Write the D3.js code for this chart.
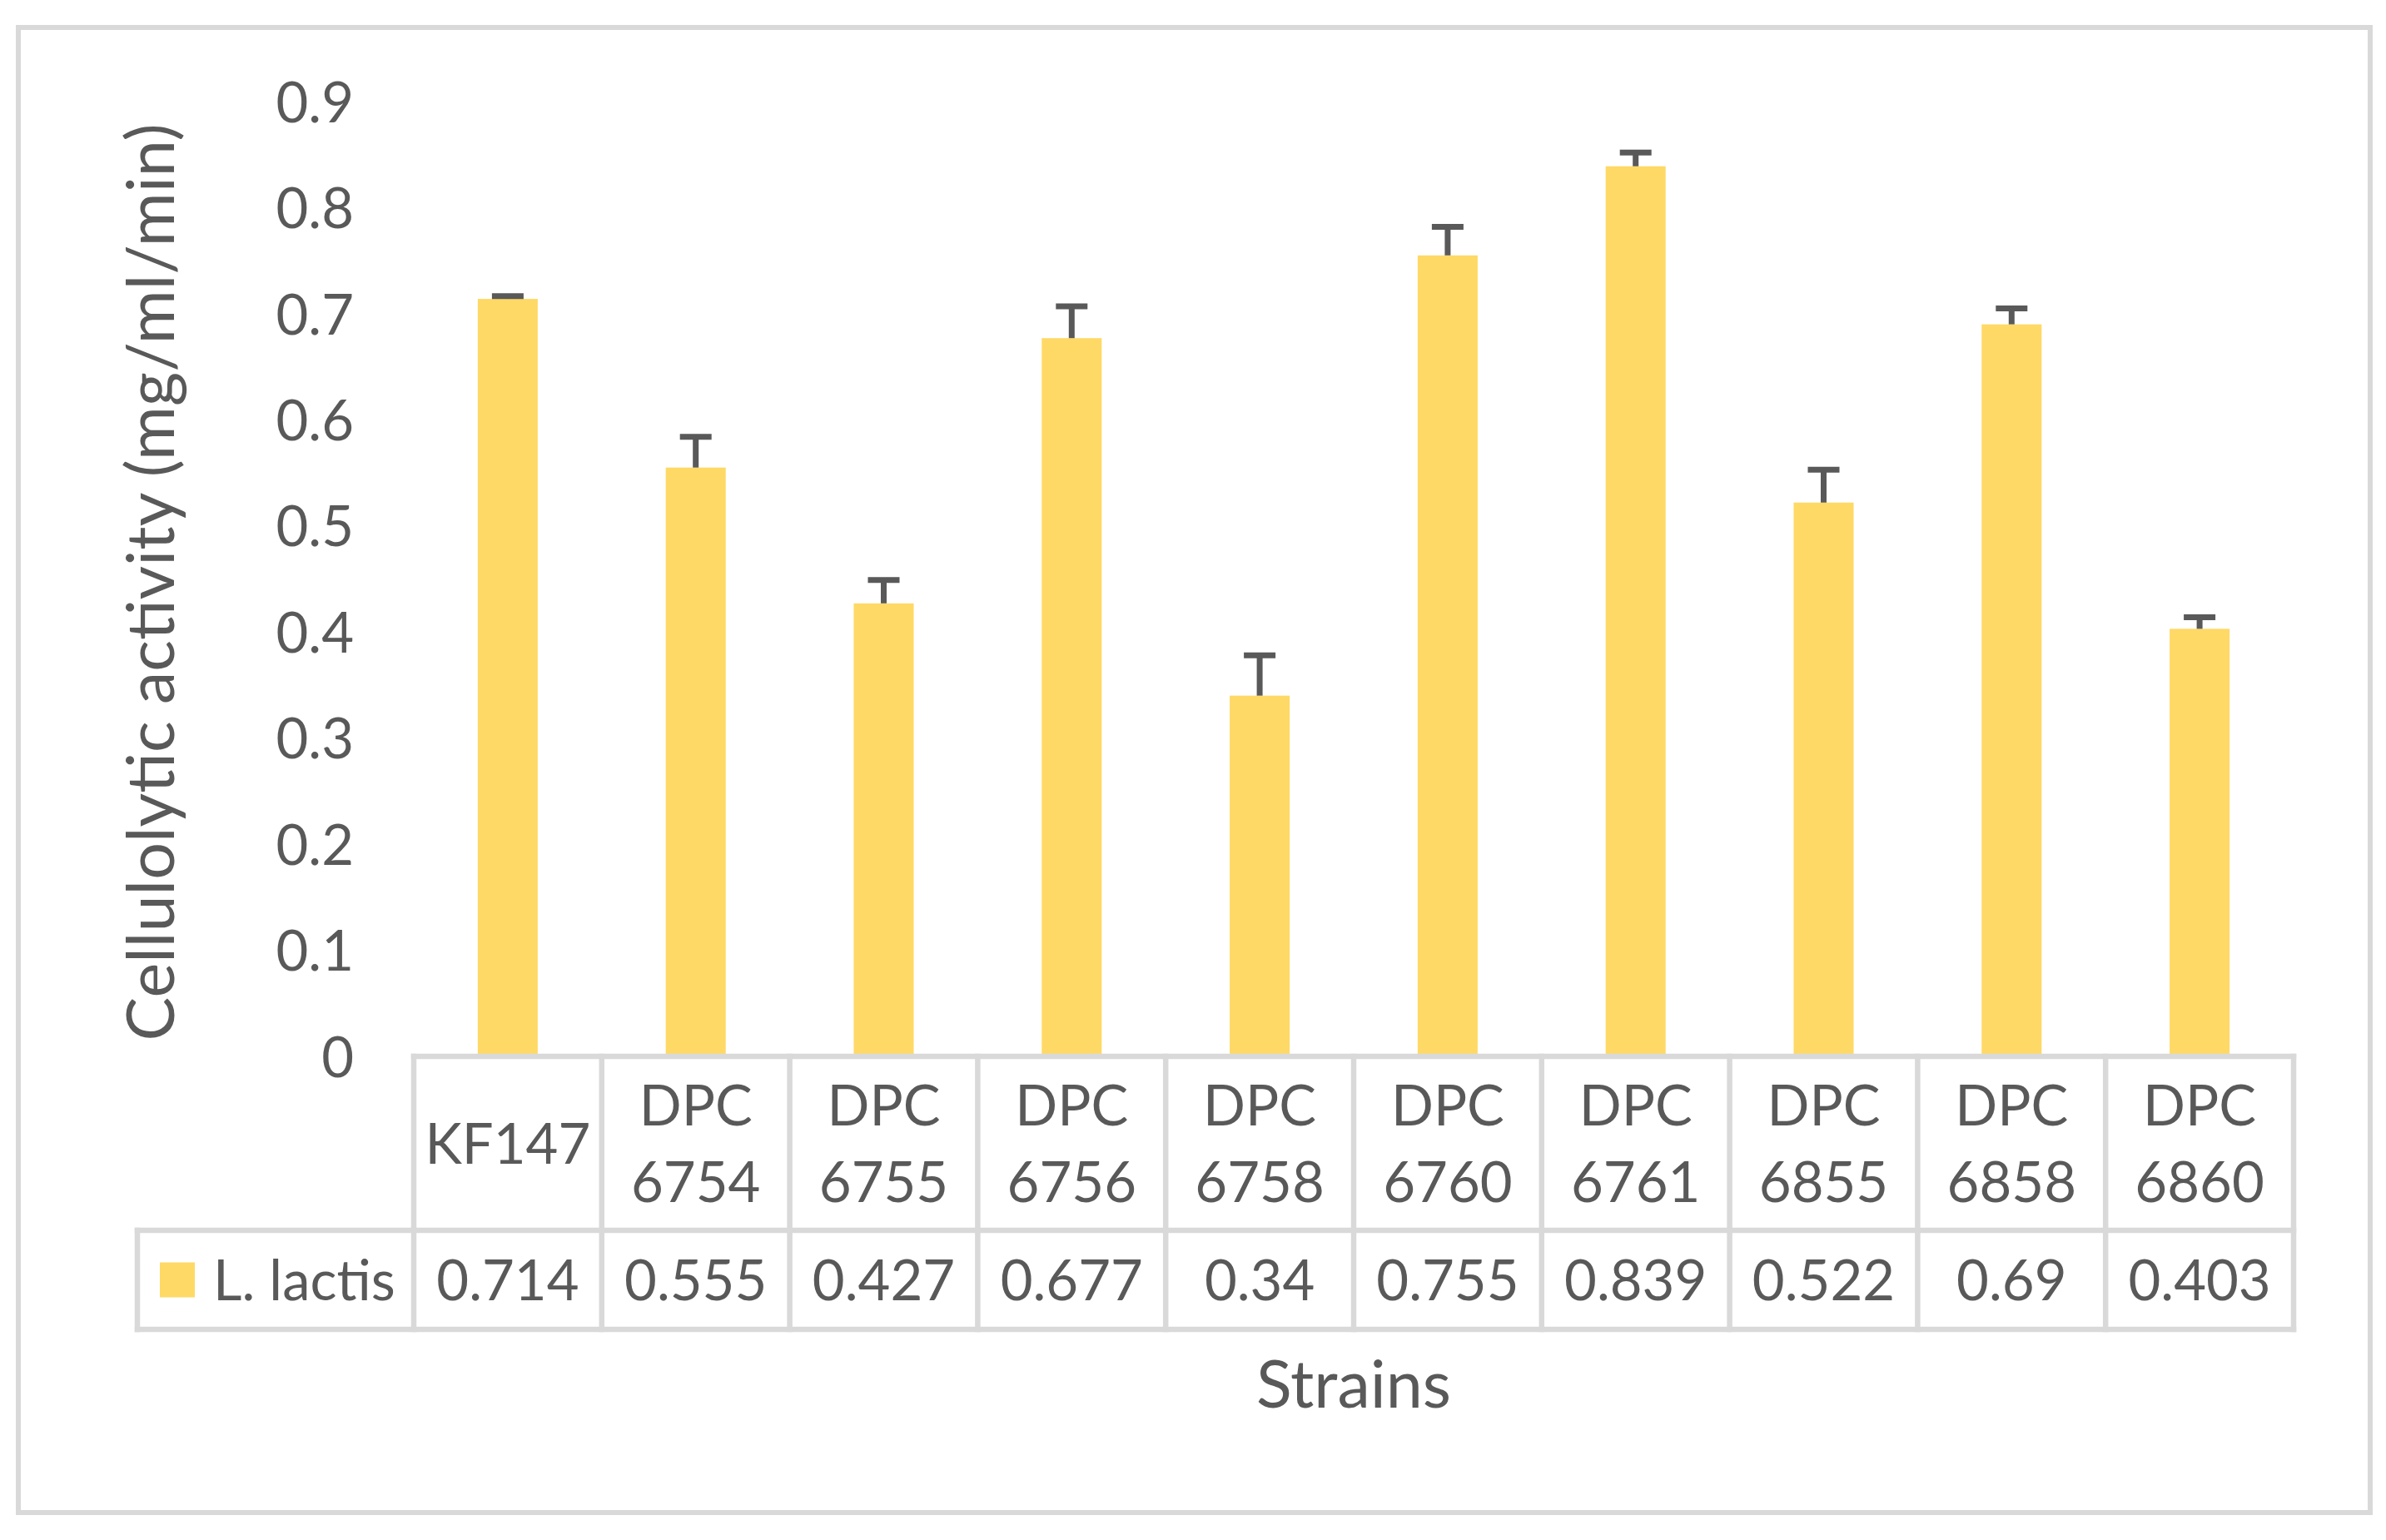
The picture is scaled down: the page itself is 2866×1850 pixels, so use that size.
<!DOCTYPE html>
<html>
<head>
<meta charset="utf-8">
<script src="https://cdn.jsdelivr.net/npm/d3@7"></script>
<style>
  html, body { margin: 0; padding: 0; background: #ffffff; }
  svg { display: block; }
  text { font-family: Lato, "Open Sans", sans-serif; fill: #595959; }
</style>
</head>
<body>
<svg id="chart" width="2866" height="1850"></svg>
<script>
// ---- data ----
const categories = ["KF147", "DPC 6754", "DPC 6755", "DPC 6756", "DPC 6758", "DPC 6760", "DPC 6761", "DPC 6855", "DPC 6858", "DPC 6860"];
const values = [0.714, 0.555, 0.427, 0.677, 0.34, 0.755, 0.839, 0.522, 0.69, 0.403];
const errors = [0.0025, 0.029, 0.022, 0.030, 0.038, 0.027, 0.013, 0.031, 0.015, 0.011];
const seriesName = "L. lactis";
const yTickValues = [0, 0.1, 0.2, 0.3, 0.4, 0.5, 0.6, 0.7, 0.8, 0.9];
const yTickLabels = ["0", "0.1", "0.2", "0.3", "0.4", "0.5", "0.6", "0.7", "0.8", "0.9"];
const yTitle = "Cellulolytic activity (mg/ml/min)";
const xTitle = "Strains";

// ---- layout ----
const svg = d3.select("#chart");
const plotLeft = 497, plotRight = 2755, plotTop = 122, plotBottom = 1269;
const row1Bottom = 1478, row2Bottom = 1597, legendLeft = 165;
const gridColor = "#d9d9d9", gridW = 6.5;
const barColor = "#FFD966", errColor = "#595959";

const x = d3.scaleBand().domain(categories).range([plotLeft, plotRight])
  .paddingInner(0.681).paddingOuter(0.3405);
const y = d3.scaleLinear().domain([0, 0.9]).range([plotBottom, plotTop]);

// outer border
svg.append("rect").attr("x", 22).attr("y", 33).attr("width", 2847 - 22).attr("height", 1817 - 33)
  .attr("fill", "#fff").attr("stroke", gridColor).attr("stroke-width", 6);

// bars
svg.append("g").selectAll("rect").data(values).join("rect")
  .attr("x", (d, i) => x(categories[i]))
  .attr("y", d => y(d))
  .attr("width", x.bandwidth())
  .attr("height", d => y(0) - y(d))
  .attr("fill", barColor);

// error bars
const eg = svg.append("g").attr("stroke", errColor).attr("stroke-width", 7);
values.forEach((v, i) => {
  const cx = x(categories[i]) + x.bandwidth() / 2;
  eg.append("line").attr("x1", cx).attr("x2", cx).attr("y1", y(v)).attr("y2", y(v + errors[i]));
  eg.append("line").attr("x1", cx - 19).attr("x2", cx + 19).attr("y1", y(v + errors[i])).attr("y2", y(v + errors[i]));
});

// y axis (labels only)
const yAxis = d3.axisLeft(y).tickValues(yTickValues)
  .tickFormat((d, i) => yTickLabels[i]).tickSize(0).tickPadding(72);
const yg = svg.append("g").attr("transform", `translate(${plotLeft},0)`).call(yAxis);
yg.select(".domain").remove();
yg.selectAll("text").attr("font-size", 67).attr("font-family", "Lato").attr("fill", "#595959")
  .attr("dy", "0.36em");

// y title
svg.append("text")
  .attr("transform", `translate(209,${(plotTop + plotBottom) / 2 + 4}) rotate(-90)`)
  .attr("text-anchor", "middle").attr("font-size", 79).text(yTitle);

// data table grid
const tg = svg.append("g").attr("stroke", gridColor).attr("stroke-width", gridW).attr("stroke-linecap", "square");
const step = x.step();
const colEdges = categories.map((c, i) => plotLeft + i * step).concat([plotRight]);
tg.append("line").attr("x1", plotLeft).attr("x2", plotRight).attr("y1", plotBottom).attr("y2", plotBottom);
tg.append("line").attr("x1", legendLeft).attr("x2", plotRight).attr("y1", row1Bottom).attr("y2", row1Bottom);
tg.append("line").attr("x1", legendLeft).attr("x2", plotRight).attr("y1", row2Bottom).attr("y2", row2Bottom);
tg.append("line").attr("x1", legendLeft).attr("x2", legendLeft).attr("y1", row1Bottom).attr("y2", row2Bottom);
colEdges.forEach(xe => {
  tg.append("line").attr("x1", xe).attr("x2", xe).attr("y1", plotBottom).attr("y2", row2Bottom);
});

// category labels
const row1Mid = (plotBottom + row1Bottom) / 2;
const catG = svg.append("g");
categories.forEach(c => {
  const parts = c.split(" ");
  const cx = x(c) + x.bandwidth() / 2;
  const lh = 92;
  const t = catG.append("text").attr("text-anchor", "middle").attr("font-size", 67);
  parts.forEach((p, j) => {
    t.append("tspan").attr("x", cx)
      .attr("y", row1Mid + (j - (parts.length - 1) / 2) * lh)
      .attr("dy", "0.36em").text(p);
  });
});

// value row
const row2Mid = (row1Bottom + row2Bottom) / 2;
svg.append("g").selectAll("text").data(values).join("text")
  .attr("x", (d, i) => x(categories[i]) + x.bandwidth() / 2)
  .attr("y", row2Mid).attr("dy", "0.36em")
  .attr("text-anchor", "middle").attr("font-size", 67)
  .text(d => String(d));

// legend key + name
svg.append("rect").attr("x", 192).attr("y", row2Mid - 21).attr("width", 42).attr("height", 42).attr("fill", barColor);
svg.append("text").attr("x", 256).attr("y", row2Mid).attr("dy", "0.36em").attr("font-size", 67).text(seriesName);

// x title
svg.append("text").attr("x", (plotLeft + plotRight) / 2).attr("y", 1663).attr("dy", "0.36em")
  .attr("text-anchor", "middle").attr("font-size", 79).text(xTitle);
</script>
</body>
</html>
